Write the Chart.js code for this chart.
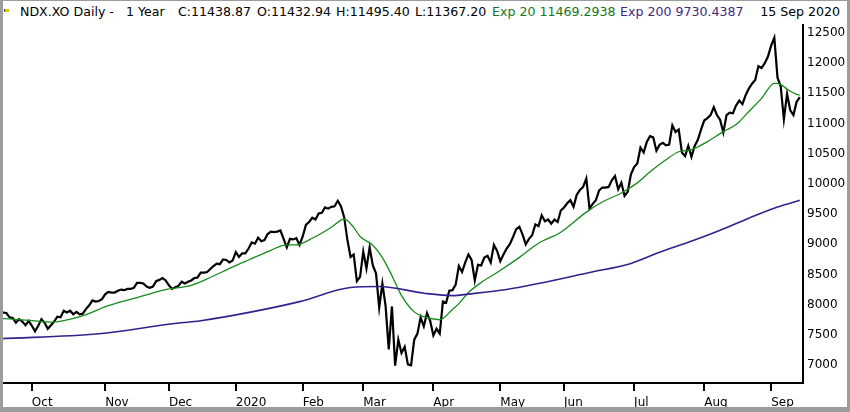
<!DOCTYPE html>
<html>
<head>
<meta charset="utf-8">
<script src="https://cdn.jsdelivr.net/npm/chart.js@4"></script>
<style>
  body { margin: 0; width: 850px; height: 412px; background: #fff; overflow: hidden; font-family: 'DejaVu Sans', sans-serif; }
  #frame { position: absolute; left: 0; top: 0; width: 850px; height: 412px; box-sizing: border-box;
           border-left: 3px solid #9c9c9c; border-right: 3px solid #9c9c9c; border-top: 1px solid #9c9c9c; border-bottom: 5px solid #9c9c9c;
           pointer-events: none; z-index: 5; }
  .hd { position: absolute; top: 4px; font-size: 12.6px; line-height: 16px; white-space: pre; color: #000; }
  #flag { position: absolute; left: 4px; top: 9px; width: 4px; height: 3px; background: #e6c200; border-left: 1px solid #555; }
  #wrap { position: absolute; left: 0; top: 24px; width: 850px; height: 384px; }
</style>
</head>
<body>
<div id="flag"></div>
<span class="hd" style="left:20px">NDX.XO Daily -</span>
<span class="hd" style="left:126px">1 Year</span>
<span class="hd" style="left:178px">C:11438.87</span>
<span class="hd" style="left:257px">O:11432.94</span>
<span class="hd" style="left:336px">H:11495.40</span>
<span class="hd" style="left:415px">L:11367.20</span>
<span class="hd" style="left:492px;color:#16761a">Exp 20 11469.2938</span>
<span class="hd" style="left:620px;color:#43287e">Exp 200 9730.4387</span>
<span class="hd" style="right:10px">15 Sep 2020</span>
<div id="wrap"><canvas id="ndxChart"></canvas></div>
<div id="frame"></div>
<script>
// trading days
const firstDay = '2019-09-17';
const lastDay = '2020-09-15';
const holidays = ['2019-11-28', '2019-12-25', '2020-01-01', '2020-01-20', '2020-02-17',
  '2020-04-10', '2020-05-25', '2020-07-03', '2020-09-07'];
const monthNames = ['2020', 'Feb', 'Mar', 'Apr', 'May', 'Jun', 'Jul', 'Aug', 'Sep', 'Oct', 'Nov', 'Dec'];
const yTicks = [7000, 7500, 8000, 8500, 9000, 9500, 10000, 10500, 11000, 11500, 12000, 12500];

// daily close, one per trading day
const closes = [
  7880, 7870, 7860, 7790, 7780, 7700, 7760, 7720, 7660, 7730,
  7650, 7560, 7650, 7760, 7700, 7600, 7660, 7720, 7800, 7790, 7900, 7870, 7900, 7840, 7880, 7840, 7850, 7930, 7990, 8070, 8050, 8060, 8090,
  8170, 8210, 8200, 8200, 8230, 8250, 8240, 8260, 8260, 8280, 8360, 8360, 8350, 8300, 8280, 8300, 8390, 8410, 8440, 8400,
  8320, 8260, 8290, 8310, 8380, 8350, 8380, 8400, 8440, 8450, 8530, 8530, 8540, 8590, 8640, 8680, 8670, 8750, 8740, 8700, 8730,
  8870, 8790, 8850, 8850, 8930, 9030, 9010, 9110, 9050, 9070, 9170, 9210, 9200, 9210, 9230, 9090, 8950, 9090, 9080, 9100, 8990,
  9130, 9320, 9370, 9440, 9410, 9510, 9520, 9610, 9590, 9620, 9630, 9720, 9630, 9450, 9080, 8790, 8830, 8390, 8460,
  8880, 8600, 8950, 8650, 8520, 7950, 8350, 7980, 7260, 7970, 6990, 7420, 7200, 7300, 7010, 6995, 7420, 7520, 7790, 7640, 7860, 7730,
  7490, 7600, 7520, 8050, 8030, 8230, 8240, 8330, 8640, 8540, 8700, 8830, 8740, 8400, 8660, 8650, 8780, 8810, 8700, 8990, 8890,
  8720, 8830, 8930, 9000, 9120, 9250, 9290, 9160, 9000, 9090, 9150, 9330, 9300, 9480, 9380, 9410, 9340, 9410, 9370, 9560,
  9610, 9680, 9730, 9620, 9820, 9900, 9950, 10090, 9590, 9670, 9730, 9890, 9940, 9940, 9950, 10060, 10130, 9910, 10020, 9800, 9870, 10160,
  10280, 10340, 10600, 10520, 10700, 10790, 10770, 10550, 10650, 10680, 10640, 10650, 10970, 10860, 10900, 10520, 10460, 10630, 10450, 10630, 10730, 10900,
  11050, 11090, 11140, 11270, 11140, 11060, 10850, 11140, 11180, 11170, 11300, 11380, 11320, 11470, 11580, 11660, 11720, 11950, 11920, 12000, 12110,
  12290, 12420, 11760, 11620, 11070, 11490, 11220, 11140, 11360, 11438.87
];

// Exp 20
const ema20Days = ['2019-09-17', '2019-09-27', '2019-10-09', '2019-10-23', '2019-11-04', '2019-11-15', '2019-11-29',
  '2019-12-11', '2019-12-19', '2019-12-30', '2020-01-08', '2020-01-17', '2020-01-24', '2020-01-29', '2020-01-31',
  '2020-02-06', '2020-02-14', '2020-02-20', '2020-02-21', '2020-02-26', '2020-02-28', '2020-03-05', '2020-03-10',
  '2020-03-13', '2020-03-18', '2020-03-24', '2020-03-27', '2020-04-03', '2020-04-09', '2020-04-14', '2020-04-17',
  '2020-04-23', '2020-04-30', '2020-05-11', '2020-05-19', '2020-05-29', '2020-06-10', '2020-06-17', '2020-06-25',
  '2020-07-02', '2020-07-09', '2020-07-16', '2020-07-22', '2020-07-28', '2020-08-04', '2020-08-11', '2020-08-17',
  '2020-08-21', '2020-08-27', '2020-09-02', '2020-09-04', '2020-09-09', '2020-09-14', '2020-09-15'];
const ema20 = [7772, 7745, 7710, 7817, 7983, 8117, 8250,
  8320, 8450, 8600, 8740, 8900, 8983, 8990, 9000,
  9100, 9283, 9400, 9420, 9280, 9130, 8983, 8780,
  8480, 8150, 7880, 7800, 7750, 7920, 8017, 8200,
  8367, 8533, 8783, 9017, 9200, 9533, 9700, 9850,
  10017, 10200, 10400, 10533, 10567, 10700, 10867, 10983,
  11200, 11417, 11667, 11650, 11567, 11483, 11469.29];

// Exp 200
const ema200Days = ['2019-09-17', '2019-10-30', '2019-12-03', '2019-12-16', '2020-01-09', '2020-01-31', '2020-02-25',
  '2020-03-09', '2020-03-27', '2020-04-09', '2020-04-17', '2020-05-05', '2020-05-19', '2020-06-11', '2020-06-30',
  '2020-07-14', '2020-07-27', '2020-08-10', '2020-08-21', '2020-09-03', '2020-09-15'];
const ema200 = [7435, 7517, 7683, 7733, 7880, 8050, 8283,
  8300, 8190, 8150, 8175, 8250, 8350, 8533, 8683,
  8867, 9033, 9233, 9433, 9617, 9730.44];

const days = [];
for (let d = new Date(firstDay + 'T00:00:00Z'); d <= new Date(lastDay + 'T00:00:00Z'); d.setUTCDate(d.getUTCDate() + 1)) {
  const s = d.toISOString().slice(0, 10);
  const wd = d.getUTCDay();
  if (wd === 0 || wd === 6 || holidays.includes(s)) continue;
  days.push(s);
}
// first trading day of each month
const monthStarts = [];
days.forEach((s, i) => {
  if (i > 0 && s.slice(5, 7) !== days[i - 1].slice(5, 7)) monthStarts.push(i);
});

const priceData = closes.map((v, i) => ({ x: i, y: v }));
const ema20Data = ema20Days.map((s, i) => ({ x: days.indexOf(s), y: ema20[i] }));
const ema200Data = ema200Days.map((s, i) => ({ x: days.indexOf(s), y: ema200[i] }));

const tickFont = { family: 'DejaVu Sans', size: 12 };

const ctx = document.getElementById('ndxChart').getContext('2d');
const chart = new Chart(ctx, {
  type: 'line',
  data: {
    datasets: [
      {
        label: 'Exp 200',
        data: ema200Data,
        borderColor: '#35208f',
        borderWidth: 1.6,
        pointRadius: 0,
        cubicInterpolationMode: 'monotone'
      },
      {
        label: 'Exp 20',
        data: ema20Data,
        borderColor: '#178a1c',
        borderWidth: 1.3,
        pointRadius: 0,
        cubicInterpolationMode: 'monotone'
      },
      {
        label: 'NDX.XO',
        data: priceData,
        borderColor: '#000',
        borderWidth: 2.2,
        pointRadius: 0,
        tension: 0
      }
    ]
  },
  options: {
    responsive: true,
    maintainAspectRatio: false,
    animation: false,
    events: [],
    layout: { padding: 0 },
    plugins: { legend: { display: false }, tooltip: { enabled: false } },
    scales: {
      x: {
        type: 'linear',
        min: 0,
        max: days.length,
        afterBuildTicks: (scale) => {
          scale.ticks = monthStarts.map(i => ({ value: i }));
        },
        afterFit: (scale) => {
          scale.height = 25;
          scale.paddingLeft = 0;
          scale.paddingRight = 0;
        },
        ticks: {
          autoSkip: false,
          maxRotation: 0,
          align: 'start',
          padding: 5,
          color: '#000',
          font: tickFont,
          callback: (value) => monthNames[Number(days[value].slice(5, 7)) - 1]
        },
        grid: {
          drawOnChartArea: false,
          drawTicks: true,
          tickLength: 8,
          color: '#000',
          lineWidth: 2
        },
        border: { display: true, color: '#000', width: 2 }
      },
      y: {
        position: 'right',
        min: 6702,
        max: 12649,
        afterBuildTicks: (scale) => {
          scale.ticks = yTicks.map(v => ({ value: v }));
        },
        afterFit: (scale) => {
          scale.width = 47;
          scale.paddingTop = 0;
          scale.paddingBottom = 0;
        },
        ticks: {
          padding: 4,
          color: '#000',
          font: tickFont,
          callback: (value) => String(value)
        },
        grid: { drawOnChartArea: false, drawTicks: false },
        border: { display: true, color: '#000', width: 2 }
      }
    }
  }
});
</script>
</body>
</html>
